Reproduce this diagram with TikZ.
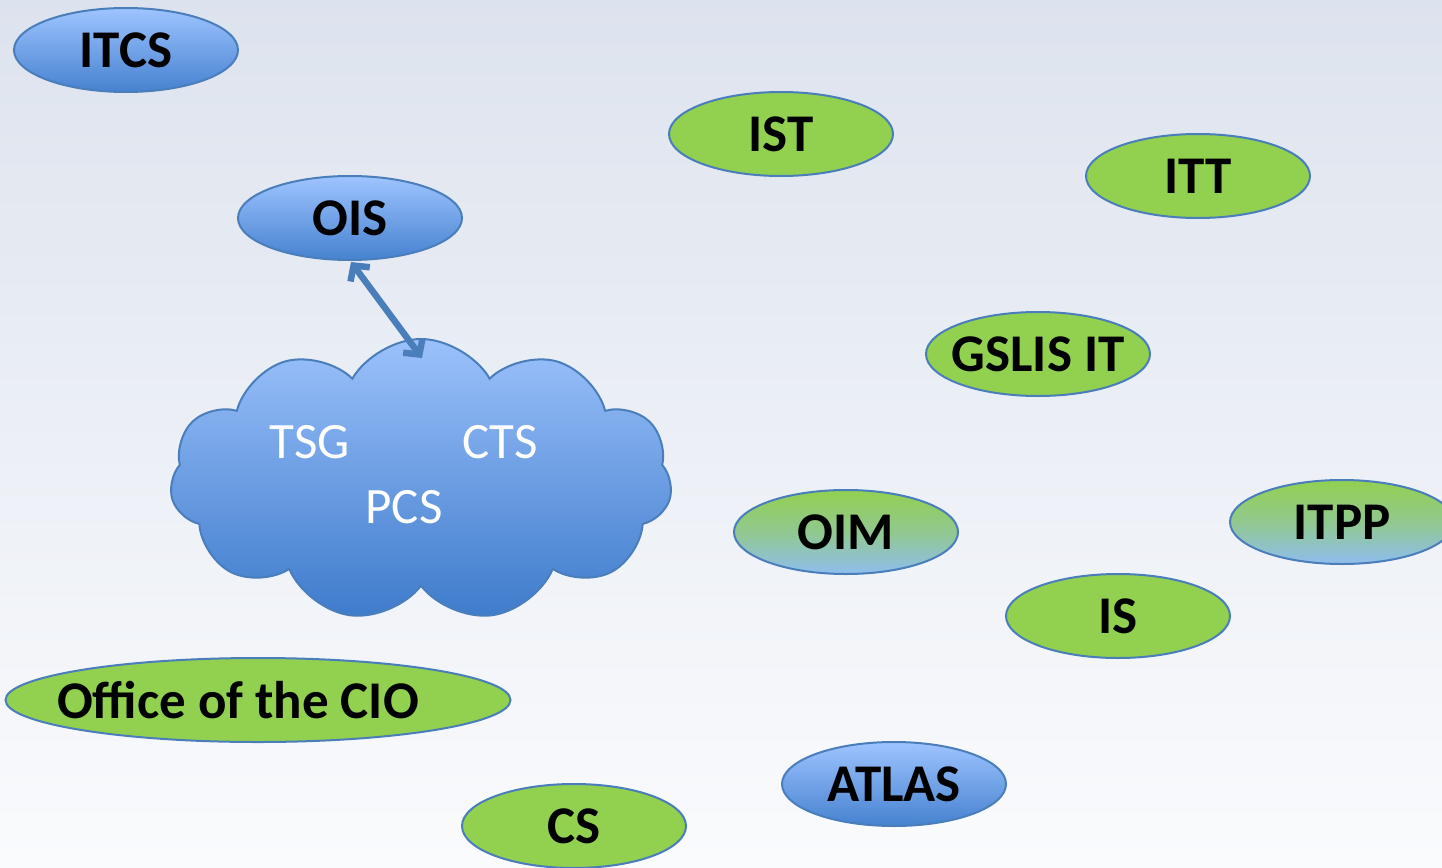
\documentclass[tikz,border=0pt]{standalone}
\usepackage{fontspec}
\setmainfont{Carlito}
\usetikzlibrary{shapes.geometric,shapes.symbols,arrows.meta}
\definecolor{edgeblue}{RGB}{74,126,187}
\definecolor{blueTop}{RGB}{158,196,255}
\definecolor{blueBot}{RGB}{70,130,208}
\definecolor{cloudTop}{RGB}{155,193,251}
\definecolor{cloudBot}{RGB}{62,123,203}
\definecolor{leaf}{RGB}{146,208,80}
\definecolor{skyb}{RGB}{143,189,239}
\definecolor{bgTop}{RGB}{221,227,238}
\definecolor{bgBot}{RGB}{250,251,253}
\tikzset{
  unit/.style={ellipse, draw=edgeblue, line width=2pt, minimum width=224pt, minimum height=84pt, inner xsep=-10pt, inner ysep=0pt, font=\fontsize{53}{53}\selectfont\bfseries, text=black},
  bluenode/.style={unit, top color=blueTop, bottom color=blueBot},
  greennode/.style={unit, fill=leaf},
  mixnode/.style={unit, top color=leaf, bottom color=skyb, middle color=leaf!60!skyb},
  cloudtext/.style={font=\fontsize{51}{51}\selectfont, text=white, inner sep=0pt},
  oisarrow/.style={draw=edgeblue, line width=6.5pt, {Straight Barb[length=11pt,width=24pt]}-{Straight Barb[length=11pt,width=24pt]}}
}
\begin{document}
\begin{tikzpicture}[x=1pt,y=1pt]
\useasboundingbox (0,0) rectangle (1442,-867);
\shade[top color=bgTop, bottom color=bgBot] (0,0) rectangle (1442,-867);
\node[bluenode] (itcs) at (126,-50) {ITCS};
\node[greennode] (ist) at (781,-134) {IST};
\node[greennode] (itt) at (1198,-176) {ITT};
\node[bluenode] (ois) at (350,-218) {OIS};
\node[greennode] (gslis) at (1038,-354) {GSLIS IT};
\node[mixnode] (oim) at (846,-532) {OIM};
\node[mixnode] (itpp) at (1342,-522) {ITPP};
\node[greennode] (is) at (1118,-616) {IS};
\node[greennode, minimum width=505pt, inner xsep=-30pt] (cio) at (258,-700) {Office of the CIO\hspace*{40pt}};
\node[bluenode] (atlas) at (894,-784) {ATLAS};
\node[greennode] (cs) at (574,-826) {CS};
\node[cloud, cloud puffs=11, cloud puff arc=120, aspect=1.8, draw=edgeblue, line width=2pt, top color=cloudTop, bottom color=cloudBot, minimum width=502pt, minimum height=282pt, inner sep=0pt] (cloud) at (421,-480) {};
\node[cloudtext] (tsg) at (310,-442) {TSG};
\node[cloudtext] (cts) at (500,-442) {CTS};
\node[cloudtext] (pcs) at (404,-507) {PCS};
\coordinate (a1) at (351,-262);
\coordinate (a2) at (422,-358);
\path[oisarrow] (a1) -- (a2);
\end{tikzpicture}
\end{document}
